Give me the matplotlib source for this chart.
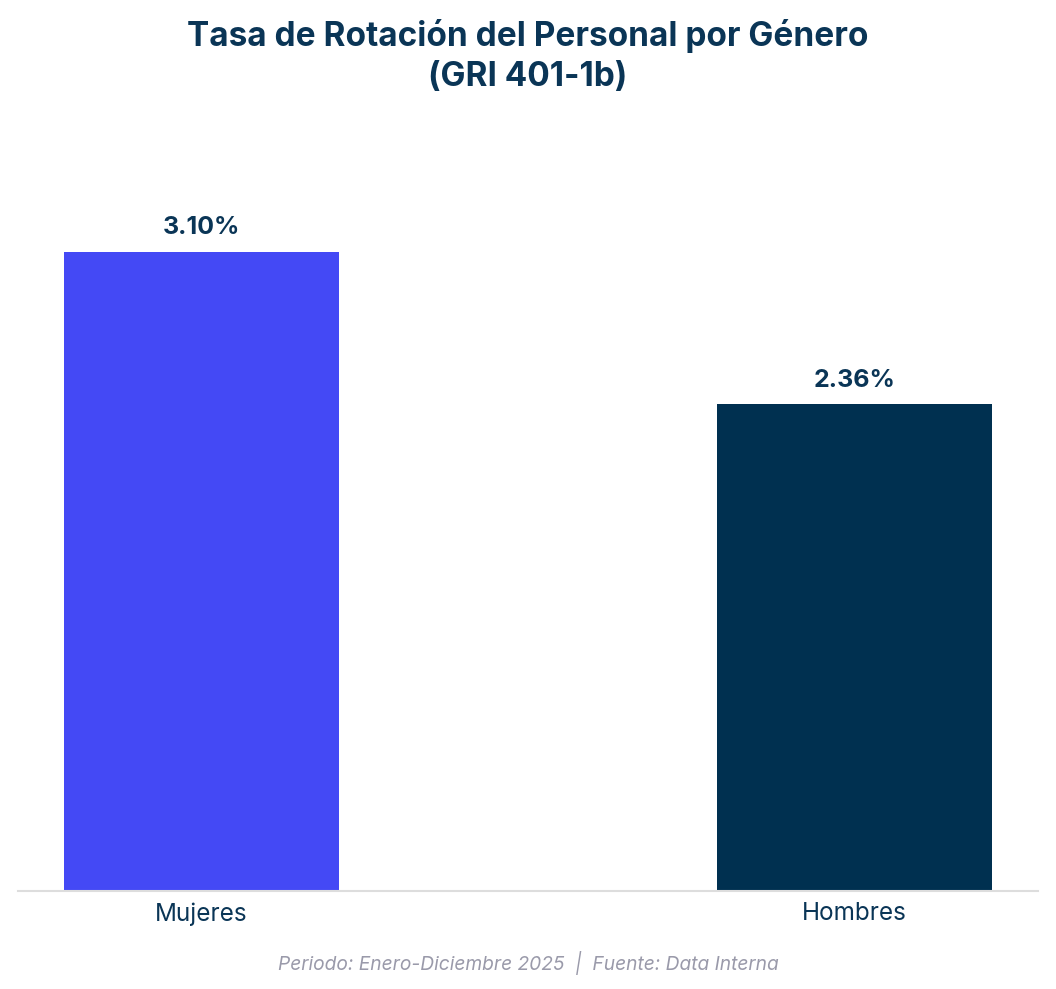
import matplotlib
matplotlib.use("Agg")
import matplotlib.pyplot as plt

categories = ["Mujeres", "Hombres"]
values = [3.10, 2.36]
value_labels = ["3.10%", "2.36%"]
colors = ["#4449F5", "#003050"]

title = "Tasa de Rotación del Personal por Género\n(GRI 401-1b)"
footer = "Periodo: Enero-Diciembre 2025  |  Fuente: Data Interna"

plt.rcParams['font.family'] = ['Inter', 'DejaVu Sans']

fig = plt.figure(figsize=(10.56, 9.89), dpi=100)
W, H = 1056, 989
ax = fig.add_axes([18 / W, (H - 891) / H, 1020 / W, (891 - 124) / H])

x = list(range(len(categories)))
ax.bar(x, values, width=0.42, color=colors, zorder=2)
ax.set_xlim(-0.281, 1.281)
ax.set_ylim(0, 3.72)

for xi, v, lab in zip(x, values, value_labels):
    ax.annotate(lab, (xi, v), xytext=(0, 9), textcoords="offset points",
                ha="center", va="bottom", fontsize=18, fontweight="bold",
                color="#0A3556")

ax.set_xticks(x)
ax.set_xticklabels(categories, fontsize=17.5, color="#0A3556")
ax.tick_params(axis="x", length=0, pad=8)
ax.set_yticks([])
for s in ["top", "right", "left"]:
    ax.spines[s].set_visible(False)
ax.spines["bottom"].set_color("#DDDDDD")
ax.spines["bottom"].set_linewidth(1.5)

fig.text(0.5, 1 - 56 / H, title, ha="center", va="center", fontsize=24,
         fontweight="bold", color="#0A3556", linespacing=1.3)
fig.text(0.5, 1 - 963 / H, footer, ha="center", va="center", fontsize=13.8,
         style="italic", color="#9A9AAA")

fig.savefig("out.png", dpi=100, facecolor="white")
